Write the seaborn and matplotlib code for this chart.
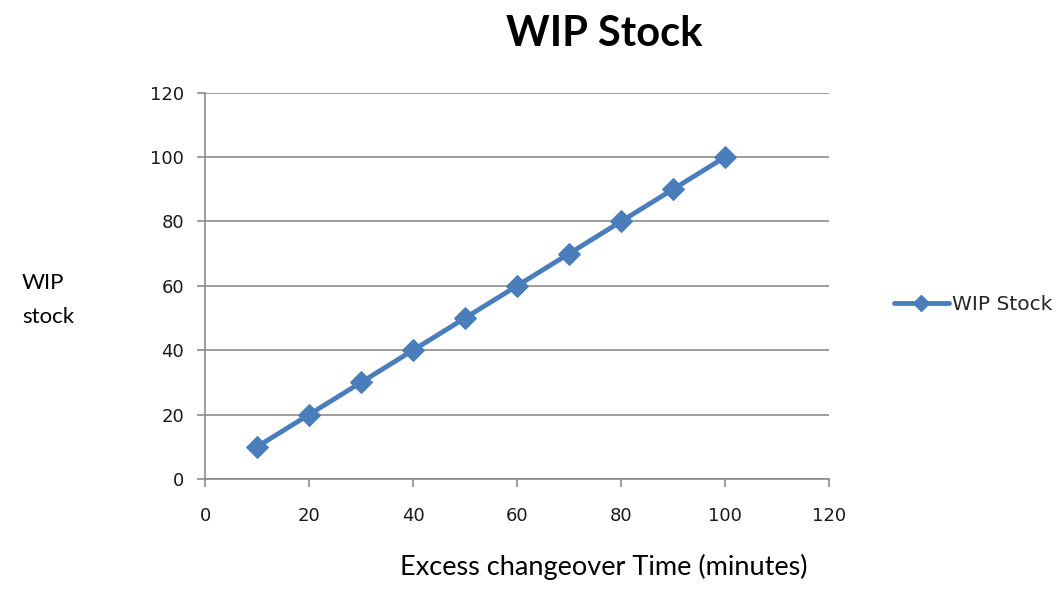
import matplotlib
matplotlib.use("Agg")
import matplotlib.pyplot as plt
import seaborn as sns
import pandas as pd
from matplotlib.lines import Line2D

# Data
changeover_minutes = [10, 20, 30, 40, 50, 60, 70, 80, 90, 100]
wip_stock = [10, 20, 30, 40, 50, 60, 70, 80, 90, 100]
x_ticks = [0, 20, 40, 60, 80, 100, 120]
y_ticks = [0, 20, 40, 60, 80, 100, 120]
series_name = "WIP Stock"

df = pd.DataFrame({"minutes": changeover_minutes, "wip": wip_stock})

sns.set_style("white")
plt.rcParams["font.family"] = ["DejaVu Sans"]

blue = "#4a7ebb"
grid_col = "#8c8c8c"

fig = plt.figure(figsize=(10.58, 6.08), dpi=100)
ax = fig.add_axes([0.1938, 0.2122, 0.7836 - 0.1938, 0.8475 - 0.2122])

sns.lineplot(data=df, x="minutes", y="wip", ax=ax, color=blue, linewidth=3.5,
             marker="D", markersize=11.5, markeredgecolor=blue, markerfacecolor=blue)

ax.set_xlim(0, 120)
ax.set_ylim(0, 120)
ax.set_xticks(x_ticks)
ax.set_yticks(y_ticks)
ax.tick_params(axis="both", bottom=True, left=True, labelsize=13,
               color=grid_col, labelcolor="#1a1a1a", length=6,
               width=1.2, direction="out")
ax.tick_params(axis="x", pad=14)
ax.tick_params(axis="y", pad=9)
ax.yaxis.grid(True, color=grid_col, linewidth=1.2)
ax.xaxis.grid(False)
ax.set_axisbelow(True)
for side in ["top", "right"]:
    ax.spines[side].set_visible(False)
for side in ["left", "bottom"]:
    ax.spines[side].set_color(grid_col)
    ax.spines[side].set_linewidth(1.2)

ax.set_xlabel("")
ax.set_ylabel("")

fig.text(604 / 1058, 1 - 34 / 608, "WIP Stock", ha="center", va="center",
         fontsize=30, fontweight="bold", family="Lato", color="#000000")
fig.text(604 / 1058, 1 - 567 / 608, "Excess changeover Time (minutes)",
         ha="center", va="center", fontsize=19.5, family="Lato", color="#000000")
fig.text(22 / 1058, 1 - 300 / 608, "WIP\nstock", ha="left", va="center",
         fontsize=16, family="Lato", color="#000000", linespacing=1.85)

handle = Line2D([], [], color=blue, linewidth=3.5, marker="D", markersize=8)
fig.legend([handle], [series_name], loc="center left",
           bbox_to_anchor=(876 / 1058, 1 - 305 / 608), frameon=False,
           fontsize=14.5, handlelength=2.7, handletextpad=0.15)

fig.savefig("out.png", dpi=100)
